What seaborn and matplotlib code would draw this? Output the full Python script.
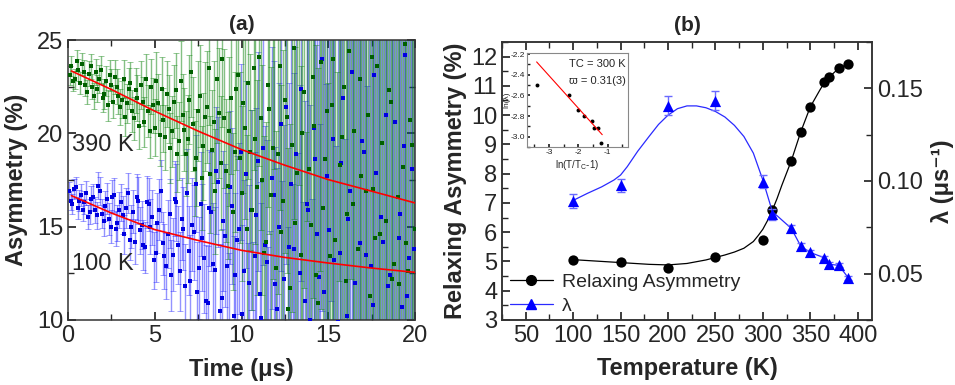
import numpy as np
import pandas as pd
import seaborn as sns
import matplotlib.pyplot as plt
from matplotlib.lines import Line2D
from matplotlib.ticker import MultipleLocator

# ---- panel (a): muon asymmetry vs time ----
t_390 = np.round(np.arange(0.1, 20.01, 0.1), 2)
t_100 = np.round(np.arange(0.05, 19.96, 0.1), 2)
asym_390 = [23.1, 23.6, 22.8, 22.9, 23.9, 23.4, 22.7, 23.7, 23.3, 22.6,
            22.2, 23.2, 23.6, 22.5, 22.0, 23.3, 22.4, 22.9, 23.4, 21.9,
            22.1, 22.8, 21.5, 23.1, 22.6, 21.7, 23.0, 22.5, 22.0, 21.4,
            21.8, 22.9, 20.9, 21.6, 22.4, 22.7, 21.2, 20.8, 22.3, 21.9,
            20.4, 22.6, 21.7, 20.6, 22.9, 21.2, 20.1, 22.5, 21.5, 20.3,
            22.8, 21.6, 19.9, 22.4, 20.7, 19.8, 22.1, 21.3, 19.2, 20.1,
            21.7, 22.3, 18.9, 19.6, 22.8, 21.0, 20.2, 18.9, 19.7, 21.8,
            23.3, 20.5, 18.1, 18.7, 21.2, 22.0, 17.6, 19.3, 20.9, 21.4,
            23.5, 17.8, 19.1, 20.6, 16.9, 22.9, 21.1, 18.4, 24.0, 20.8,
            18.0, 17.2, 20.1, 21.9, 15.8, 19.0, 22.4, 23.1, 18.7, 16.8,
            21.6, 20.3, 14.9, 22.7, 19.0, 15.9, 23.5, 19.7, 17.1, 24.1,
            20.8, 17.5, 13.6, 14.2, 22.6, 21.3, 16.7, 19.2, 25.3, 12.8,
            18.9, 23.6, 14.7, 16.4, 21.8, 20.9, 10.6, 11.7, 19.4, 24.6,
            15.2, 17.9, 27.1, 13.5, 20.0, 22.2, 9.3, 26.3, 18.1, 15.1,
            23.0, 20.4, 12.4, 10.9, 25.5, 23.8, 16.0, 18.6, 21.2, 8.2,
            13.4, 21.5, 24.0, 14.3, 7.1, 28.7, 18.3, 19.8, 22.5, 12.1,
            15.7, 24.4, 31.6, 16.2, 20.1, 5.6, 13.8, 22.9, 17.7, 30.1,
            9.4, 16.9, 21.0, 11.3, 24.1, 17.0, 14.4, 23.6, 3.8, 14.6,
            19.5, 35.2, 15.3, 9.8, 22.3, 21.7, 12.2, 13.0, 27.4, 16.6,
            11.9, 2.4, 18.2, 24.8, 14.1, 12.6, 20.7, 19.4, 7.8, 14.9]
asym_100 = [16.9, 16.4, 16.2, 17.0, 17.1, 16.0, 16.4, 16.7, 15.9, 16.3,
            16.8, 15.5, 15.8, 16.5, 16.6, 15.9, 15.6, 17.2, 16.9, 15.7,
            15.3, 16.1, 16.5, 15.4, 15.0, 16.6, 16.7, 14.9, 15.2, 15.9,
            16.3, 15.6, 14.6, 16.0, 16.8, 14.3, 15.0, 15.8, 14.2, 16.6,
            16.4, 14.8, 15.1, 14.0, 13.9, 16.3, 16.2, 15.0, 15.5, 13.2,
            13.6, 15.2, 15.9, 16.9, 14.1, 13.4, 12.9, 14.6, 15.7, 12.4,
            13.5, 16.5, 16.3, 14.0, 12.6, 15.4, 14.9, 11.8, 16.8, 13.7,
            12.1, 15.1, 14.7, 17.3, 11.5, 12.8, 16.2, 14.4, 13.3, 11.0,
            10.9, 16.0, 15.8, 13.0, 12.7, 18.0, 17.4, 10.5, 11.2, 15.3,
            14.5, 12.9, 9.6, 17.1, 16.1, 10.2, 12.4, 14.3, 14.9, 19.0,
            10.3, 12.6, 17.8, 9.0, 12.0, 15.9, 8.7, 13.4, 15.6, 18.5,
            11.4, 10.1, 19.2, 14.0, 13.1, 7.2, 7.9, 17.6, 16.7, 11.9,
            10.6, 15.0, 20.5, 9.4, 12.2, 21.4, 6.4, 13.9, 17.3, 8.1,
            13.8, 18.9, 9.1, 12.5, 22.4, 5.8, 11.0, 16.2, 15.9, 10.0,
            4.7, 20.3, 18.6, 14.6, 12.3, 7.3, 24.0, 11.5, 8.5, 17.7,
            14.8, 26.1, 19.7, 13.2, 3.1, 9.9, 13.6, 18.4, 21.9, 1.6,
            10.2, 15.4, 16.9, 23.3, 27.3, 12.0, 7.6, 6.1, 14.1, 19.6,
            19.0, 13.5, -1.8, 25.7, 12.9, 10.8, 23.1, 17.9, 9.4, 4.2,
            15.5, 14.2, 32.7, 21.0, 11.8, 12.4, 0.6, 28.9, 20.6, 8.9,
            14.4, 15.7, 10.7, 19.3, 24.2, 11.3, 13.3, -4.0, 18.1, 13.8]
asym_err = [0.51, 0.52, 0.53, 0.54, 0.555, 0.57, 0.58, 0.59, 0.605, 0.62,
            0.635, 0.65, 0.665, 0.68, 0.695, 0.71, 0.725, 0.74, 0.76, 0.78,
            0.795, 0.81, 0.83, 0.85, 0.87, 0.89, 0.91, 0.93, 0.95, 0.97,
            0.995, 1.02, 1.04, 1.06, 1.085, 1.11, 1.135, 1.16, 1.19, 1.22,
            1.245, 1.27, 1.30, 1.33, 1.36, 1.39, 1.425, 1.46, 1.49, 1.52,
            1.555, 1.59, 1.63, 1.67, 1.705, 1.74, 1.78, 1.82, 1.865, 1.91,
            1.955, 2.00, 2.045, 2.09, 2.135, 2.18, 2.23, 2.28, 2.335, 2.39,
            2.445, 2.50, 2.555, 2.61, 2.67, 2.73, 2.795, 2.86, 2.925, 2.99,
            3.06, 3.13, 3.20, 3.27, 3.345, 3.42, 3.50, 3.58, 3.66, 3.74,
            3.83, 3.92, 4.01, 4.10, 4.195, 4.29, 4.385, 4.48, 4.585, 4.69,
            4.795, 4.90, 5.015, 5.13, 5.245, 5.36, 5.485, 5.61, 5.74, 5.87,
            6.005, 6.14, 6.28, 6.42, 6.565, 6.71, 6.865, 7.02, 7.185, 7.35,
            7.52, 7.69, 7.865, 8.04, 8.225, 8.41, 8.605, 8.80, 9.0, 9.20,
            9.415, 9.63, 9.85, 10.1, 10.3, 10.5, 10.75, 11.0, 11.25, 11.5,
            11.8, 12.1, 12.35, 12.6, 12.9, 13.2, 13.5, 13.8, 14.15, 14.5,
            14.8, 15.1, 15.45, 15.8, 16.2, 16.6, 16.95, 17.3, 17.7, 18.1,
            18.55, 19.0, 19.4, 19.8, 20.25, 20.7, 21.2, 21.7, 22.2, 22.7,
            23.25, 23.8, 24.35, 24.9, 25.45, 26.0, 26.6, 27.2, 27.85, 28.5,
            29.15, 29.8, 30.45, 31.1, 31.85, 32.6, 33.35, 34.1, 34.85, 35.6,
            36.45, 37.3, 38.15, 39.0, 39.9, 40.8, 41.7, 42.6, 43.6, 44.6]
fit_t = [0.2, 2.5, 5, 7.5, 10, 12.5, 15, 17.5, 20]
fit_390 = [23.34, 22.35, 21.19, 20.12, 19.13, 18.29, 17.52, 16.90, 16.27]
fit_100 = [16.66, 15.73, 14.84, 14.26, 13.73, 13.35, 13.05, 12.78, 12.55]

# ---- panel (b): fit parameters vs temperature ----
temps = [100, 150, 200, 250, 300, 310, 330, 340, 350, 365, 370, 380, 390]
relax_asym = [5.06, 4.97, 4.77, 5.15, 5.74, 6.75, 8.44, 9.43, 10.28, 11.12, 11.30, 11.61, 11.75]
lam = [0.0892, 0.0978, 0.1406, 0.1433, 0.0996, 0.0820, 0.0744, 0.0648, 0.0614,
       0.0585, 0.0550, 0.0545, 0.0478]
lam_err = [0.0038, 0.0035, 0.0052, 0.0050, 0.0035, 0.0030, 0.0020, 0.0015,
           0.0012, 0.0012, 0.0012, 0.0010, 0.0010]
# guide-to-eye curves
asym_curve_T = [100, 120, 140, 160, 180, 200, 220, 240, 260, 270, 280, 290, 295,
                300, 305, 310, 315, 320, 330, 340, 350, 360, 365, 370, 380, 390]
asym_curve = [5.06, 5.02, 4.98, 4.94, 4.90, 4.88, 4.93, 5.05, 5.22, 5.32, 5.45,
              5.68, 5.88, 6.10, 6.40, 6.75, 7.15, 7.60, 8.44, 9.43, 10.28, 10.85,
              11.12, 11.30, 11.60, 11.75]
lam_curve_T = [100, 115, 130, 143, 150, 157, 168, 180, 190, 200, 210, 220, 230,
               240, 250, 260, 270, 280, 290, 300, 310, 330, 340, 350, 365, 370, 380, 390]
lam_curve = [0.0895, 0.0933, 0.0968, 0.1005, 0.1032, 0.1077, 0.1160, 0.1240,
             0.1305, 0.1355, 0.1390, 0.1405, 0.1405, 0.1395, 0.1375, 0.1345,
             0.1300, 0.1240, 0.1150, 0.1005, 0.0835, 0.0744, 0.0648, 0.0614,
             0.0585, 0.0550, 0.0545, 0.0478]

# ---- inset: critical scaling ----
ln_red_T = [-3.40, -2.30, -2.01, -1.79, -1.53, -1.46, -1.32, -1.22]
ln_lam = [-2.50, -2.60, -2.745, -2.80, -2.845, -2.92, -2.92, -3.06]
line_x = [-3.42, -1.18]
line_y = [-2.275, -2.98]

sns.set_theme(style="ticks")
plt.rcParams['font.family'] = ['Liberation Sans', 'DejaVu Sans']
plt.rcParams['axes.unicode_minus'] = False
plt.rcParams['axes.edgecolor'] = '#333333'
plt.rcParams['axes.linewidth'] = 1.1

fig = plt.figure(figsize=(9.55, 3.85), dpi=100)
axa = fig.add_axes([0.0712, 0.169, 0.3634, 0.727])
axb = fig.add_axes([0.5257, 0.169, 0.3873, 0.722])

# panel (a)
axa.errorbar(t_100, asym_100, yerr=asym_err, fmt='none', ecolor='#1010ff',
             alpha=0.45, elinewidth=1.0, capsize=2, capthick=0.6)
sns.scatterplot(x=t_100, y=asym_100, ax=axa, color='#0000e0', marker='s',
                s=5, linewidth=0, zorder=3)
axa.errorbar(t_390, asym_390, yerr=asym_err, fmt='none', ecolor='#0a820a',
             alpha=0.5, elinewidth=1.0, capsize=2, capthick=0.6)
sns.scatterplot(x=t_390, y=asym_390, ax=axa, color='#006000', marker='s',
                s=5, linewidth=0, zorder=3)
sns.lineplot(x=fit_t, y=fit_390, ax=axa, color='red', lw=1.2, zorder=5)
sns.lineplot(x=fit_t, y=fit_100, ax=axa, color='red', lw=1.2, zorder=5)
axa.text(0.25, 19.4, '390 K', fontsize=17, va='center', zorder=6)
axa.text(0.25, 13.0, '100 K', fontsize=17, va='center', zorder=6)
axa.set_xlim(0, 20)
axa.set_ylim(10, 25)
axa.xaxis.set_major_locator(MultipleLocator(5))
axa.xaxis.set_minor_locator(MultipleLocator(2.5))
axa.yaxis.set_major_locator(MultipleLocator(5))
axa.yaxis.set_minor_locator(MultipleLocator(2.5))
axa.tick_params(which='both', direction='in', top=True, right=True, labelsize=17)
axa.set_xlabel('Time (μs)', fontsize=17, fontweight='bold')
axa.set_ylabel('Asymmetry (%)', fontsize=17, fontweight='bold')
axa.xaxis.set_label_coords(0.5, -0.135)
axa.yaxis.set_label_coords(-0.115, 0.5)
axa.set_title('(a)', fontsize=15, fontweight='bold', pad=7)

# panel (b)
sns.lineplot(x=asym_curve_T, y=asym_curve, ax=axb, color='black', lw=0.9)
sns.scatterplot(x=temps, y=relax_asym, ax=axb, color='black', s=55,
                linewidth=0, zorder=4)
axb.set_xlim(25, 415)
axb.set_ylim(3, 12.5)
axb.xaxis.set_major_locator(MultipleLocator(50))
axb.xaxis.set_minor_locator(MultipleLocator(25))
axb.yaxis.set_major_locator(MultipleLocator(1))
axb.yaxis.set_minor_locator(MultipleLocator(0.5))
axb.tick_params(which='both', direction='in', top=True, labelsize=17)
axb.set_xlabel('Temperature (K)', fontsize=17, fontweight='bold')
axb.set_ylabel('Relaxing Asymmetry (%)', fontsize=17, fontweight='bold')
axb.xaxis.set_label_coords(0.5, -0.135)
axb.yaxis.set_label_coords(-0.095, 0.5)
axb.set_title('(b)', fontsize=15, fontweight='bold', pad=8)

ax2 = axb.twinx()
sns.lineplot(x=lam_curve_T, y=lam_curve, ax=ax2, color='#2a2aff', lw=0.9)
ax2.errorbar(temps, lam, yerr=lam_err, fmt='none', ecolor='#6a6aff',
             elinewidth=1.0, capsize=3, capthick=1.0)
sns.scatterplot(x=temps, y=lam, ax=ax2, color='#0000ff', marker='^', s=65,
                linewidth=0, zorder=4)
ax2.set_ylim(0.025, 0.175)
ax2.yaxis.set_major_locator(MultipleLocator(0.05))
ax2.yaxis.set_minor_locator(MultipleLocator(0.025))
ax2.yaxis.set_major_formatter('{x:.2f}')
ax2.tick_params(which='both', direction='in', labelsize=17)
ax2.set_ylabel('λ (μs⁻¹)', fontsize=17, fontweight='bold')
ax2.yaxis.set_label_coords(1.16, 0.5)

handles = [Line2D([], [], color='black', lw=0.9, marker='o', markersize=7),
           Line2D([], [], color='#2a2aff', lw=0.9, marker='^', markersize=7,
                  markerfacecolor='#0000ff', markeredgecolor='#0000ff')]
ax2.legend(handles, ['Relaxing Asymmetry', 'λ'], loc='lower left',
           bbox_to_anchor=(0.0, -0.01), frameon=False, fontsize=14,
           handlelength=2.2, handletextpad=0.5, labelspacing=0.35,
           borderaxespad=0.0)

# inset
axi = fig.add_axes([0.5518, 0.618, 0.1058, 0.244])
sns.lineplot(x=line_x, y=line_y, ax=axi, color='red', lw=0.8)
sns.scatterplot(x=ln_red_T, y=ln_lam, ax=axi, color='black', s=8, linewidth=0)
axi.set_xlim(-3.75, -0.3)
axi.set_ylim(-3.1, -2.19)
axi.xaxis.set_major_locator(MultipleLocator(1))
axi.xaxis.set_minor_locator(MultipleLocator(0.5))
axi.yaxis.set_major_locator(MultipleLocator(0.2))
axi.yaxis.set_minor_locator(MultipleLocator(0.1))
axi.yaxis.set_major_formatter('{x:.1f}')
axi.xaxis.set_major_formatter('{x:.0f}')
axi.tick_params(which='both', direction='in', labelsize=6, length=2, pad=1.5,
                colors='#222222')
for sp in axi.spines.values():
    sp.set_color('#888888')
    sp.set_linewidth(0.8)
axi.set_xlabel(r'ln(T/T$_\mathregular{C}$-1)', fontsize=7, labelpad=1)
axi.set_ylabel('ln(λ)', fontsize=6, labelpad=0)
axi.text(0.98, 0.88, 'TC = 300 K', transform=axi.transAxes, ha='right',
         va='center', fontsize=8)
axi.text(0.98, 0.70, 'ϖ = 0.31(3)', transform=axi.transAxes, ha='right',
         va='center', fontsize=8)

fig.savefig('out.png', dpi=100)
